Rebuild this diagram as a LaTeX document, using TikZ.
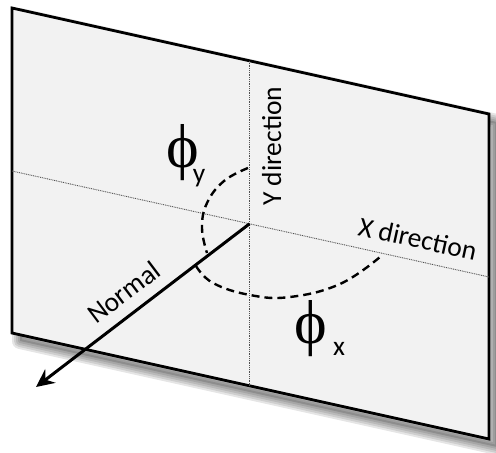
\documentclass[tikz,border=0pt]{standalone}
\usepackage{fontspec}
\setmainfont{Carlito}
\newfontfamily\phifont{Liberation Serif}
\usetikzlibrary{arrows.meta,calc}
\definecolor{planefill}{HTML}{F2F2F2}
\definecolor{dotgray}{HTML}{505050}
\begin{document}
\begin{tikzpicture}[x=1pt,y=-1pt,
  plane/.style={draw=black,line width=2.8pt,fill=planefill,line join=miter},
  guide/.style={draw=dotgray,line width=0.9pt,dash pattern=on 0.9pt off 0.9pt},
  anglearc/.style={draw=black,line width=2.4pt,dash pattern=on 8pt off 5pt},
  normalarrow/.style={draw=black,line width=3pt,-{Stealth[length=18pt,width=17pt,inset=6pt]}},
  lbl/.style={inner sep=0pt,font=\fontsize{27.5}{32}\selectfont},
  philbl/.style={inner sep=0pt,font=\fontsize{62}{70}\phifont},
  sublbl/.style={inner sep=0pt,font=\fontsize{27.5}{32}\selectfont}]
\useasboundingbox (0,0) rectangle (496,453);
% plane corners
\coordinate (TL) at (12,8);
\coordinate (TR) at (489,114);
\coordinate (BR) at (489,439);
\coordinate (BL) at (12,333);
% shadow
\foreach \w in {16,12,8,4}{
  \draw[black,opacity=0.1,line width=\w pt,line join=round]
    ($(TL)+(8,8)$) -- ($(TR)+(8,8)$) -- ($(BR)+(8,8)$) -- ($(BL)+(8,8)$) -- cycle;
}
\fill[black,opacity=0.15]
    ($(TL)+(8,8)$) -- ($(TR)+(8,8)$) -- ($(BR)+(8,8)$) -- ($(BL)+(8,8)$) -- cycle;
% plane
\draw[plane] (TL) -- (TR) -- (BR) -- (BL) -- cycle;
% guide lines
\coordinate (HL) at (12,171);
\coordinate (HR) at (489,277);
\coordinate (VT) at (249.5,61);
\coordinate (VB) at (249.5,386);
\coordinate (C) at (249.5,223.8);
\draw[guide] (HL) -- (HR);
\draw[guide] (VT) -- (VB);
% angle arcs
\draw[anglearc] plot[smooth,tension=0.7] coordinates {(248,168) (224,181) (207,203) (202,228) (207,253)};
\draw[anglearc] plot[smooth,tension=0.7] coordinates {(196,266) (213,283) (250,295) (290,297) (340,284) (380,257)};
% normal
\coordinate (tip) at (36,387);
\draw[normalarrow] (C) -- (tip);
% labels
\node[lbl,rotate=90,anchor=base west] (ylab) at (281,206) {Y direction};
\node[lbl,rotate=-12.4,anchor=base west] (xlab) at (357,235) {X direction};
\node[lbl,rotate=37,anchor=base west] (nlab) at (96,325) {Normal};
\node[philbl,anchor=base] (phiy) at (183,167) {ϕ};
\node[sublbl,anchor=base] (suby) at (199,182) {y};
\node[philbl,anchor=base] (phix) at (311,343) {ϕ};
\node[sublbl,anchor=base] (subx) at (339,355) {x};
\end{tikzpicture}
\end{document}
